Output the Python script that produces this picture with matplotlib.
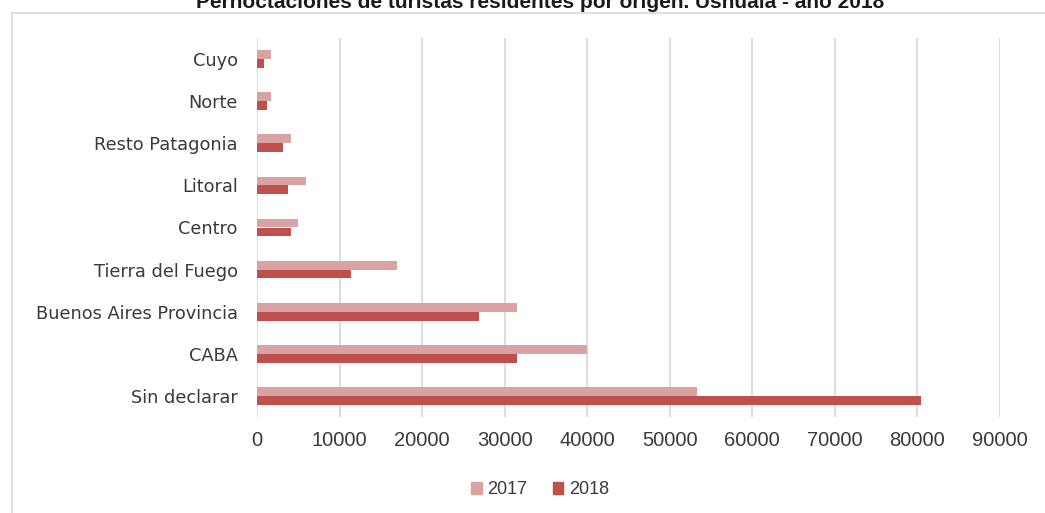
import matplotlib
matplotlib.use("Agg")
import matplotlib.pyplot as plt
import numpy as np
from matplotlib.patches import Rectangle, Patch

categories = ["Cuyo", "Norte", "Resto Patagonia", "Litoral", "Centro",
              "Tierra del Fuego", "Buenos Aires Provincia", "CABA", "Sin declarar"]
v2017 = [1700, 1700, 4100, 5900, 5000, 17000, 31500, 40000, 53300]
v2018 = [850, 1200, 3100, 3700, 4100, 11400, 26900, 31500, 80400]
xticks = [0, 10000, 20000, 30000, 40000, 50000, 60000, 70000, 80000, 90000]
title = "Pernoctaciones de turistas residentes por origen. Ushuaia - año 2018"

c2017 = "#d9a3a3"
c2018 = "#c0504d"

W, H = 1045, 513
fig = plt.figure(figsize=(W / 100, H / 100), dpi=100)

# chart frame
fig.patches.append(Rectangle((12 / W, -0.1), 1.2, 1 - 13 / H + 0.1,
                             transform=fig.transFigure, fill=False,
                             edgecolor="#d9d9d9", linewidth=1.2, zorder=0))

ax = fig.add_axes([257 / W, 1 - 417 / H, (1000 - 257) / W, (417 - 38) / H])
y = np.arange(len(categories))
h = 0.21
ax.barh(y - h / 2, v2017, height=h, color=c2017, label="2017", zorder=3)
ax.barh(y + h / 2, v2018, height=h, color=c2018, label="2018", zorder=3)
ax.set_ylim(len(categories) - 0.5, -0.5)
ax.set_xlim(0, 90000)
ax.set_xticks(xticks)
ax.set_xticklabels([str(t) for t in xticks], fontsize=14.5,
                   family="Liberation Sans", color="#3a3a3a")
ax.set_yticks(y)
ax.set_yticklabels(categories, fontsize=12.8, family="DejaVu Sans", color="#3a3a3a")
ax.tick_params(axis="both", length=0)
ax.tick_params(axis="x", pad=10)
ax.tick_params(axis="y", pad=14)
for s in ax.spines.values():
    s.set_visible(False)
ax.grid(axis="x", color="#dedede", linewidth=1.5, zorder=0)

fig.text(0.517, 1 - 8 / H, title, ha="center", va="baseline",
         fontsize=15, fontweight="bold", family="Liberation Sans", color="#1a1a1a")

handles = [Patch(color=c2017), Patch(color=c2018)]
fig.legend(handles, ["2017", "2018"], loc="center", bbox_to_anchor=(540 / W, 1 - 490 / H),
           ncol=2, frameon=False, prop={"family": "Liberation Sans", "size": 13},
           handlelength=0.6, handleheight=0.6, handletextpad=0.3, columnspacing=1.4,
           labelcolor="#3a3a3a")

fig.savefig("out.png", dpi=100)
